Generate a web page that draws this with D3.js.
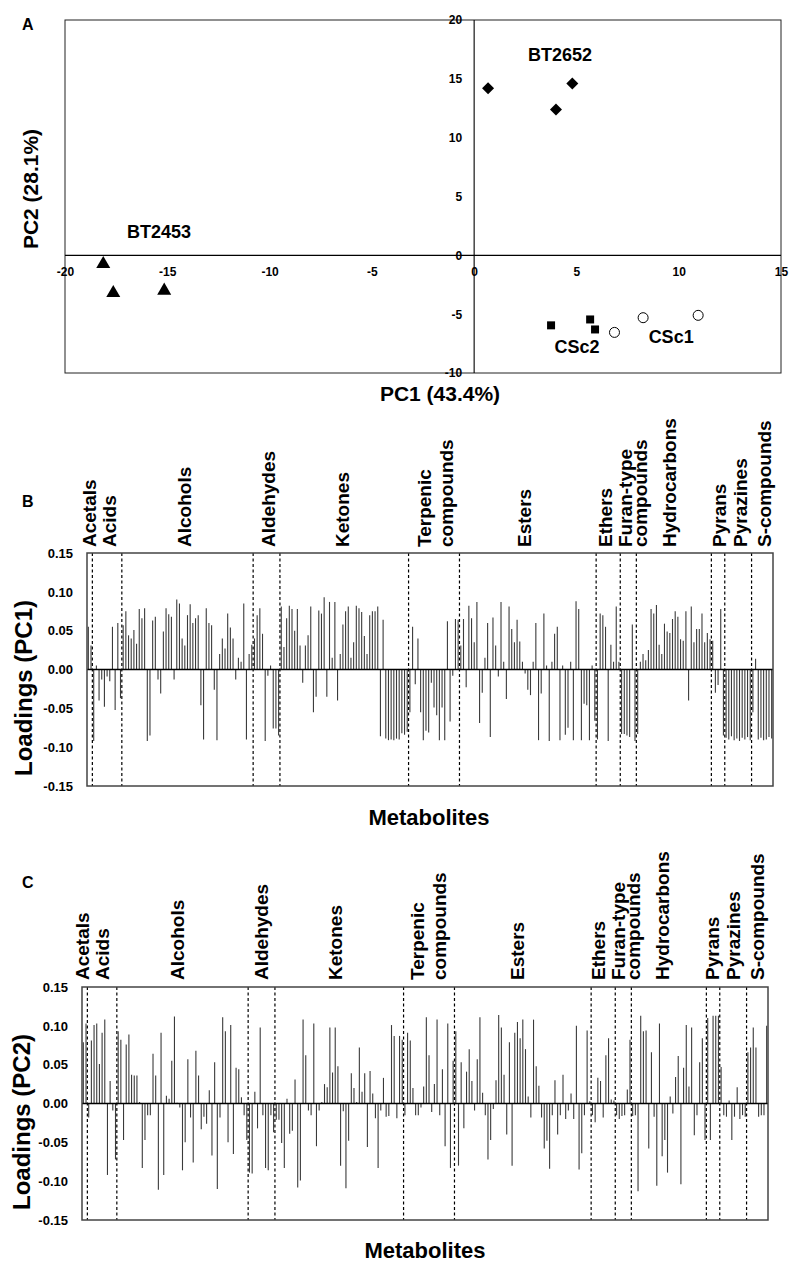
<!DOCTYPE html>
<html><head><meta charset="utf-8">
<script src="https://cdn.jsdelivr.net/npm/d3@7"></script>
<style>
body{margin:0;background:#fff}
svg{display:block}
text{font-family:"Liberation Sans",Arial,sans-serif;font-weight:bold;fill:#000}
</style>
</head><body>
<svg id="chart" width="798" height="1275"></svg>
<script>
// ---------------- Panel A data (PCA scores) ----------------
const sampleGroups = ["BT2453", "BT2652", "CSc2", "CSc1"];
const bt2453PC1 = [-18.13, -17.64, -15.15];
const bt2453PC2 = [-0.74, -3.2, -3.0];
const bt2652PC1 = [0.68, 4.0, 4.8];
const bt2652PC2 = [14.2, 12.4, 14.6];
const csc2PC1 = [3.76, 5.67, 5.91];
const csc2PC2 = [-5.95, -5.45, -6.3];
const csc1PC1 = [6.86, 8.26, 10.95];
const csc1PC2 = [-6.55, -5.3, -5.1];
const pc1Ticks = [-20, -15, -10, -5, 0, 5, 10, 15];
const pc2Ticks = [-10, -5, 0, 5, 10, 15, 20];

// ---------------- Panels B and C data (loadings) ----------------
const categories = ["Acetals", "Acids", "Alcohols", "Aldehydes", "Ketones", "Terpenic compounds", "Esters",
  "Ethers", "Furan-type compounds", "Hydrocarbons", "Pyrans", "Pyrazines", "S-compounds"];
const categoryLines = [["Acetals"], ["Acids"], ["Alcohols"], ["Aldehydes"], ["Ketones"], ["Terpenic", "compounds"],
  ["Esters"], ["Ethers"], ["Furan-type", "compounds"], ["Hydrocarbons"], ["Pyrans"], ["Pyrazines"], ["S-compounds"]];
const loadingTicks = [-0.15, -0.10, -0.05, 0.00, 0.05, 0.10, 0.15];

// PC1 loadings, one array per category
const pc1Acetals = [0.055, 0.031];
const pc1Acids = [-0.092, 0.005, -0.040, -0.013, -0.048, -0.009, -0.015, 0.055, -0.052, 0.060, -0.037];
const pc1Alcohols = [0.057, 0.075, 0.044, 0.040, 0.051, 0.033, 0.078, 0.066, 0.079, -0.092,
  -0.085, 0.063, 0.068, -0.013, -0.031, 0.049, 0.079, 0.071, 0.068, -0.013,
  0.090, 0.085, 0.040, 0.031, 0.070, 0.084, 0.060, 0.066, 0.070, -0.046,
  -0.090, 0.079, 0.060, 0.057, -0.026, -0.091, 0.020, 0.040, 0.027, 0.072,
  0.054, 0.040, -0.013, 0.015, 0.010, 0.085, -0.090, 0.020, 0.032];
const pc1Aldehydes = [0.040, 0.070, 0.079, 0.046, -0.092, -0.008, 0.005, -0.076, -0.076, -0.085];
const pc1Ketones = [0.081, 0.029, 0.066, 0.082, 0.078, 0.050, 0.078, 0.031, -0.017, 0.031,
  0.044, 0.081, -0.055, -0.035, 0.076, 0.072, 0.093, -0.035, 0.087, 0.015,
  0.087, -0.040, 0.020, 0.058, 0.075, 0.081, 0.015, 0.035, 0.082, 0.079,
  0.074, 0.043, 0.020, 0.070, 0.075, 0.075, 0.081, -0.086, 0.064, -0.089,
  -0.091, -0.090, -0.091, -0.089, -0.090, -0.082, -0.084, -0.080];
const pc1Terpenic = [-0.055, 0.055, -0.019, 0.040, -0.055, -0.091, -0.079, -0.081, -0.017, -0.049,
  -0.059, -0.091, -0.049, -0.091, 0.062, -0.067, -0.008, 0.065, 0.064];
const pc1Esters = [0.031, 0.065, -0.023, 0.082, 0.066, 0.035, 0.087, -0.069, -0.030, 0.015,
  0.060, -0.087, 0.067, 0.031, -0.009, 0.087, 0.010, -0.038, 0.081, 0.052,
  0.035, 0.064, 0.036, 0.010, -0.005, -0.026, -0.033, 0.010, 0.060, -0.091,
  -0.031, 0.072, 0.005, -0.092, 0.010, 0.046, 0.055, -0.091, 0.005, -0.084,
  -0.075, 0.010, -0.091, 0.088, 0.078, -0.091, -0.044, -0.046, -0.091, 0.005, -0.066];
const pc1Ethers = [-0.090, 0.072, 0.070, 0.055, -0.092, 0.032, 0.010, 0.081, 0.010];
const pc1Furans = [-0.083, -0.083, -0.085, -0.087, 0.058, -0.092];
const pc1Hydrocarbons = [-0.083, 0.010, 0.020, 0.012, 0.025, 0.078, 0.072, 0.083, 0.032, 0.020,
  0.059, 0.049, 0.047, 0.065, 0.075, 0.068, 0.039, 0.037, 0.075, -0.040,
  0.081, 0.035, 0.052, 0.052, 0.072, 0.035, 0.047, 0.039];
const pc1Pyrans = [0.037, -0.030, -0.020, 0.078, -0.085];
const pc1Pyrazines = [-0.088, -0.090, -0.086, -0.091, -0.089, -0.092, -0.088, -0.090, -0.087, -0.091];
const pc1SCompounds = [-0.055, 0.014, -0.090, -0.088, -0.091, -0.090, -0.087, -0.089];

// PC2 loadings, one array per category
const pc2Acetals = [0.079, 0.103];
const pc2Acids = [-0.018, 0.081, 0.101, 0.103, 0.051, 0.091, 0.108, -0.092, 0.029, -0.009, -0.072];
const pc2Alcohols = [0.093, 0.082, -0.047, 0.076, 0.089, 0.037, 0.036, 0.036, 0.002, -0.083,
  -0.047, -0.015, -0.015, 0.064, 0.036, -0.111, 0.091, -0.092, 0.010, 0.006,
  0.055, 0.112, 0.001, -0.005, -0.086, -0.050, 0.057, -0.018, -0.076, 0.068,
  0.036, -0.033, -0.017, -0.026, 0.017, -0.067, 0.053, -0.110, -0.018, 0.111,
  0.093, -0.050, 0.101, -0.065, 0.046, 0.044, 0.008, -0.015, -0.047];
const pc2Aldehydes = [-0.089, -0.090, 0.015, -0.032, 0.098, -0.015, -0.083, -0.086, -0.015, -0.037];
const pc2Ketones = [-0.021, -0.021, -0.051, -0.083, 0.006, -0.039, -0.035, 0.031, -0.108, -0.099,
  0.108, 0.062, -0.009, -0.015, 0.103, -0.055, -0.009, 0.002, 0.025, 0.021,
  0.098, 0.040, 0.098, 0.048, -0.080, -0.010, -0.109, -0.048, 0.039, 0.020,
  0.002, 0.072, 0.015, 0.039, -0.056, 0.042, 0.013, -0.019, -0.083, -0.009,
  0.033, -0.017, -0.016, 0.101, 0.087, -0.019, 0.087, 0.082];
const pc2Terpenic = [-0.015, 0.091, 0.081, 0.020, -0.015, -0.015, -0.005, 0.022, 0.111, 0.062,
  -0.011, 0.025, 0.108, -0.015, 0.044, -0.055, 0.103, -0.083, 0.055];
const pc2Esters = [0.093, -0.080, 0.053, -0.032, 0.041, 0.070, 0.029, -0.009, 0.057, 0.111,
  0.014, -0.015, -0.072, -0.047, -0.007, 0.030, 0.114, 0.098, 0.037, -0.040,
  0.079, -0.080, 0.091, 0.105, 0.084, 0.108, 0.070, 0.009, -0.018, 0.108,
  0.048, 0.023, -0.018, -0.058, -0.048, -0.084, -0.015, 0.030, -0.040, -0.015,
  0.037, -0.020, -0.009, 0.013, -0.020, 0.100, -0.085, -0.064, -0.015, 0.094, 0.003];
const pc2Ethers = [-0.015, -0.024, 0.033, 0.029, -0.018, 0.062, 0.084, 0.005, 0.004];
const pc2Furans = [-0.015, -0.020, -0.016, -0.015, 0.018, 0.082];
const pc2Hydrocarbons = [-0.016, -0.015, -0.113, 0.113, 0.093, 0.094, -0.058, 0.066, -0.017, -0.106,
  0.103, -0.068, -0.047, -0.089, 0.009, -0.013, 0.034, 0.061, -0.104, 0.046,
  0.101, 0.022, 0.098, -0.041, -0.015, 0.053, 0.084, -0.047];
const pc2Pyrans = [0.110, -0.047, 0.113, 0.113, 0.113];
const pc2Pyrazines = [0.047, -0.015, -0.017, 0.004, -0.047, -0.017, 0.021, -0.020, -0.015, -0.017];
const pc2SCompounds = [0.066, 0.072, 0.098, 0.072, -0.017, -0.015, -0.015, 0.100];

const pc1ByCategory = [pc1Acetals, pc1Acids, pc1Alcohols, pc1Aldehydes, pc1Ketones, pc1Terpenic, pc1Esters,
  pc1Ethers, pc1Furans, pc1Hydrocarbons, pc1Pyrans, pc1Pyrazines, pc1SCompounds];
const pc2ByCategory = [pc2Acetals, pc2Acids, pc2Alcohols, pc2Aldehydes, pc2Ketones, pc2Terpenic, pc2Esters,
  pc2Ethers, pc2Furans, pc2Hydrocarbons, pc2Pyrans, pc2Pyrazines, pc2SCompounds];

// ---------------- Drawing ----------------
const FONT = '"Liberation Sans",Arial,sans-serif';
const svg = d3.select("#chart");
svg.append("rect").attr("width", 798).attr("height", 1275).attr("fill", "#fff");
const hyphenInt = d => String(d);           // plain hyphen-minus like the original
const hyphen2 = d => d.toFixed(2);

// ===== Panel A =====
(function () {
  const L = 65, R = 781, T = 20, B = 373;
  const x = d3.scaleLinear().domain([-20, 15]).range([L, R]);
  const y = d3.scaleLinear().domain([-10, 20]).range([B, T]);
  const g = svg.append("g");
  g.append("rect").attr("x", L).attr("y", T).attr("width", R - L).attr("height", B - T)
    .attr("fill", "none").attr("stroke", "#222").attr("stroke-width", 1);
  const xAxis = g.append("g").attr("transform", `translate(0,${y(0)})`)
    .call(d3.axisBottom(x).tickValues(pc1Ticks).tickSize(0).tickPadding(12.5).tickFormat(hyphenInt));
  const yAxis = g.append("g").attr("transform", `translate(${x(0)},0)`)
    .call(d3.axisLeft(y).tickValues(pc2Ticks).tickSize(0).tickPadding(12).tickFormat(hyphenInt));
  [xAxis, yAxis].forEach(a => {
    a.select(".domain").attr("stroke", "#000").attr("stroke-width", 1.1);
    a.selectAll("text").style("font-family", FONT)
      .style("font-weight", "bold").style("font-size", "12px").attr("fill", "#000");
  });
  xAxis.select(".domain").attr("d", `M${L},0H${R}`);
  yAxis.select(".domain").attr("d", `M0,${T}V${B}`);

  const pts = (xs, ys) => xs.map((v, i) => ({ x: v, y: ys[i] }));
  const sym = (type, size) => d3.symbol().type(type).size(size)();
  g.selectAll("path.tri").data(pts(bt2453PC1, bt2453PC2)).join("path").attr("class", "tri")
    .attr("d", sym(d3.symbolTriangle, 85)).attr("fill", "#000")
    .attr("transform", d => `translate(${x(d.x)},${y(d.y)})`);
  g.selectAll("path.dia").data(pts(bt2652PC1, bt2652PC2)).join("path").attr("class", "dia")
    .attr("d", sym(d3.symbolSquare, 72)).attr("fill", "#000")
    .attr("transform", d => `translate(${x(d.x)},${y(d.y)}) rotate(45)`);
  g.selectAll("path.sq").data(pts(csc2PC1, csc2PC2)).join("path").attr("class", "sq")
    .attr("d", sym(d3.symbolSquare, 64)).attr("fill", "#000")
    .attr("transform", d => `translate(${x(d.x)},${y(d.y)})`);
  g.selectAll("circle.ci").data(pts(csc1PC1, csc1PC2)).join("circle").attr("class", "ci")
    .attr("cx", d => x(d.x)).attr("cy", d => y(d.y)).attr("r", 5)
    .attr("fill", "#fff").attr("stroke", "#000").attr("stroke-width", 1);

  const groupLabelPos = [[-15.4, 1.45], [4.2, 16.5], [5.03, -8.33], [9.63, -7.48]];
  sampleGroups.forEach((s, i) => {
    g.append("text").attr("x", x(groupLabelPos[i][0])).attr("y", y(groupLabelPos[i][1]))
      .attr("text-anchor", "middle").style("font-size", "18px").text(s);
  });
  g.append("text").attr("x", 440).attr("y", 401).attr("text-anchor", "middle")
    .style("font-size", "21px").text("PC1 (43.4%)");
  g.append("text").attr("transform", "translate(38,189) rotate(-90)").attr("text-anchor", "middle")
    .style("font-size", "21px").text("PC2 (28.1%)");
  g.append("text").attr("x", 22).attr("y", 30).style("font-size", "16px").text("A");
})();

// ===== Panels B and C =====
const labelOffsets = [[9], [29], [104], [188], [262], [344, 366], [444], [525], [545, 560], [589], [639], [660], [684]];

function loadingPanel(o) {
  const vals = o.byCat.flat();
  const counts = o.byCat.map(a => a.length);
  const N = vals.length;
  const xi = d3.scaleLinear().domain([0, N]).range([o.L, o.R]);
  const y = d3.scaleLinear().domain([-0.15, 0.15]).range([o.B, o.T]);
  const g = svg.append("g");

  g.selectAll("line.bar").data(vals).join("line").attr("class", "bar")
    .attr("x1", (d, i) => xi(i + 0.5)).attr("x2", (d, i) => xi(i + 0.5))
    .attr("y1", y(0)).attr("y2", d => y(d))
    .attr("stroke", "#3a3a3a").attr("stroke-width", 1.1);

  const bounds = d3.cumsum(counts).slice(0, -1);
  g.selectAll("line.div").data(bounds).join("line").attr("class", "div")
    .attr("x1", d => xi(d)).attr("x2", d => xi(d)).attr("y1", o.T).attr("y2", o.B)
    .attr("stroke", "#000").attr("stroke-width", 1.2).attr("stroke-dasharray", "3,2.5");

  g.append("line").attr("x1", o.L).attr("x2", o.R).attr("y1", y(0)).attr("y2", y(0))
    .attr("stroke", "#000").attr("stroke-width", 1.3);

  g.append("rect").attr("x", o.L).attr("y", o.T).attr("width", o.R - o.L).attr("height", o.B - o.T)
    .attr("fill", "none").attr("stroke", "#444").attr("stroke-width", 1.5);

  const ax = g.append("g").attr("transform", `translate(${o.L},0)`)
    .call(d3.axisLeft(y).tickValues(loadingTicks).tickSize(0).tickPadding(14).tickFormat(hyphen2));
  ax.select(".domain").remove();
  ax.selectAll("text").style("font-family", FONT)
    .style("font-weight", "bold").style("font-size", "13px").attr("fill", "#000");

  categoryLines.forEach((lines, ci) => {
    lines.forEach((ln, li) => {
      g.append("text").attr("transform", `translate(${o.L + labelOffsets[ci][li] + o.labelShift},${o.labelBottom}) rotate(-90)`)
        .attr("text-anchor", "start").style("font-size", "19px").text(ln);
    });
  });

  g.append("text").attr("transform", `translate(${o.titleX},${o.titleCY}) rotate(-90)`)
    .attr("text-anchor", "middle").style("font-size", "24px").text(o.title);
  g.append("text").attr("x", o.metaX).attr("y", o.metaY).attr("text-anchor", "middle")
    .style("font-size", "22px").text("Metabolites");
  g.append("text").attr("x", 22).attr("y", o.letterY).style("font-size", "16px").text(o.letter);
}

loadingPanel({ byCat: pc1ByCategory, L: 87, R: 773, T: 553, B: 786, labelBottom: 547, labelShift: 0,
  title: "Loadings (PC1)", titleX: 32, titleCY: 688, metaX: 429, metaY: 825, letter: "B", letterY: 507 });
loadingPanel({ byCat: pc2ByCategory, L: 82, R: 768, T: 987, B: 1220, labelBottom: 980, labelShift: -2,
  title: "Loadings (PC2)", titleX: 30, titleCY: 1122, metaX: 425, metaY: 1258, letter: "C", letterY: 888 });
</script>
</body></html>
